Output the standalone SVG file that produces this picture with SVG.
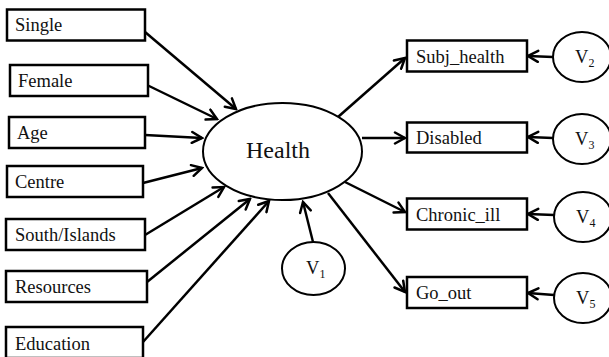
<svg xmlns="http://www.w3.org/2000/svg" width="609" height="357" viewBox="0 0 609 357">
<style>
.box{fill:#fff;stroke:#000;stroke-width:2.5}
.ell{fill:#fff;stroke:#000;stroke-width:2}
text{font-family:'Liberation Serif','DejaVu Serif',serif;fill:#111}
.lbl{font-size:18.5px}
.big{font-size:24px}
.sub{font-size:12px}
.arr{stroke:#000;stroke-width:2.5;fill:none;marker-end:url(#ah)}
</style>
<defs>
<marker id="ah" markerUnits="userSpaceOnUse" markerWidth="14" markerHeight="14" viewBox="0 0 14 14" refX="12" refY="7" orient="auto">
<path d="M2,1.5 L12,7 L2,12.5" fill="none" stroke="#000" stroke-width="2.5" stroke-linecap="round" stroke-linejoin="miter"/>
</marker>
</defs>
<rect width="609" height="357" fill="#fff"/>
<g id="connectors">
<line class="arr" x1="145" y1="32" x2="236" y2="109"/>
<line class="arr" x1="147" y1="85" x2="217" y2="119"/>
<line class="arr" x1="145" y1="135" x2="202" y2="138"/>
<line class="arr" x1="143" y1="183" x2="202" y2="168"/>
<line class="arr" x1="145" y1="235" x2="224" y2="187"/>
<line class="arr" x1="147" y1="282" x2="250" y2="199"/>
<line class="arr" x1="143" y1="342" x2="269" y2="201"/>
<line class="arr" x1="313" y1="242" x2="303" y2="202"/>
<line class="arr" x1="338" y1="117" x2="405" y2="58"/>
<line class="arr" x1="362" y1="138" x2="405" y2="138"/>
<line class="arr" x1="345" y1="182" x2="405" y2="212"/>
<line class="arr" x1="328" y1="193" x2="405" y2="292"/>
<line class="arr" x1="553" y1="57" x2="528" y2="56"/>
<line class="arr" x1="553" y1="138" x2="528" y2="137"/>
<line class="arr" x1="554" y1="215" x2="528" y2="214"/>
<line class="arr" x1="554" y1="295" x2="528" y2="293"/>
</g>
<g id="single"><rect class="box" x="7" y="9.5" width="138" height="31"/><text class="lbl" font-family="Liberation Serif, serif" x="15" y="31">Single</text></g>
<g id="female"><rect class="box" x="10" y="65" width="138" height="31"/><text class="lbl" font-family="Liberation Serif, serif" x="18" y="87">Female</text></g>
<g id="age"><rect class="box" x="9" y="117" width="136" height="31"/><text class="lbl" font-family="Liberation Serif, serif" x="17" y="139">Age</text></g>
<g id="centre"><rect class="box" x="7" y="166" width="136" height="31"/><text class="lbl" font-family="Liberation Serif, serif" x="15" y="188">Centre</text></g>
<g id="south"><rect class="box" x="6" y="219" width="139" height="31"/><text class="lbl" font-family="Liberation Serif, serif" x="15" y="241">South/Islands</text></g>
<g id="resources"><rect class="box" x="6" y="271" width="141" height="31"/><text class="lbl" font-family="Liberation Serif, serif" x="15" y="293">Resources</text></g>
<g id="education"><rect class="box" x="6" y="327" width="137" height="31"/><text class="lbl" font-family="Liberation Serif, serif" x="15" y="350">Education</text></g>
<g id="health"><ellipse class="ell" cx="282.5" cy="151.5" rx="79.5" ry="48.5"/><text class="big" font-family="Liberation Serif, serif" x="278" y="158" text-anchor="middle">Health</text></g>
<g id="v1"><ellipse class="ell" cx="313.5" cy="268.5" rx="31.5" ry="26.5"/><text class="lbl" font-family="Liberation Serif, serif" x="306" y="274">V<tspan class="sub" dy="4">1</tspan></text></g>
<g id="subj_health"><rect class="box" x="407" y="40.5" width="120" height="31"/><text class="lbl" font-family="Liberation Serif, serif" x="416" y="63">Subj_health</text></g>
<g id="disabled"><rect class="box" x="407" y="122.5" width="120" height="30"/><text class="lbl" font-family="Liberation Serif, serif" x="416" y="144">Disabled</text></g>
<g id="chronic_ill"><rect class="box" x="407" y="198.5" width="120" height="31"/><text class="lbl" font-family="Liberation Serif, serif" x="416" y="221">Chronic_ill</text></g>
<g id="go_out"><rect class="box" x="407" y="277" width="120" height="31"/><text class="lbl" font-family="Liberation Serif, serif" x="416" y="299">Go_out</text></g>
<g id="v2"><ellipse class="ell" cx="582" cy="57" rx="29" ry="25"/><text class="lbl" font-family="Liberation Serif, serif" x="575" y="63">V<tspan class="sub" dy="4">2</tspan></text></g>
<g id="v3"><ellipse class="ell" cx="582" cy="139" rx="29" ry="25"/><text class="lbl" font-family="Liberation Serif, serif" x="575" y="145">V<tspan class="sub" dy="4">3</tspan></text></g>
<g id="v4"><ellipse class="ell" cx="583" cy="217" rx="29" ry="25"/><text class="lbl" font-family="Liberation Serif, serif" x="576" y="223">V<tspan class="sub" dy="4">4</tspan></text></g>
<g id="v5"><ellipse class="ell" cx="583" cy="298" rx="29" ry="25"/><text class="lbl" font-family="Liberation Serif, serif" x="576" y="304">V<tspan class="sub" dy="4">5</tspan></text></g>
</svg>
